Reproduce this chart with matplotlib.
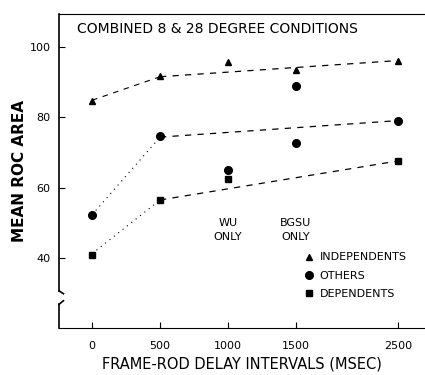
import numpy as np
import matplotlib
matplotlib.use('Agg')
import matplotlib.pyplot as plt

# delay intervals (msec)
delays = [0, 500, 1000, 1500, 2500]
tick_labels = ['0', '500', '1000', '1500', '2500']

indep_x = [0, 500, 1000, 1500, 2500]
indep_y = [84.6, 91.7, 95.7, 93.4, 96.0]

others_x = [0, 500, 1000, 1500, 1500, 2500]
others_y = [52.3, 74.6, 64.9, 88.9, 72.6, 79.1]

dep_x = [0, 500, 1000, 2500]
dep_y = [40.9, 56.6, 62.6, 67.7]

# fitted trend lines (first segment, then the flat part)
indep_fit_x = [0, 500, 2500]
indep_fit_y = [84.9, 91.6, 96.2]
others_fit_x = [0, 500, 2500]
others_fit_y = [52.3, 74.4, 79.1]
dep_fit_x = [0, 500, 2500]
dep_fit_y = [41.2, 56.5, 67.6]


# the axis is squeezed after 1500 msec
def fwd(x):
    x = np.asarray(x, dtype=float)
    return np.where(x <= 1500, x, 1500 + (x - 1500) * 0.75)


def inv(y):
    y = np.asarray(y, dtype=float)
    return np.where(y <= 1500, y, 1500 + (y - 1500) / 0.75)


fig = plt.figure(figsize=(4.25, 3.75), dpi=100)
ax = fig.add_axes([0.139, 0.125, 0.861, 0.838])
ax.set_xscale('function', functions=(fwd, inv))

# trend lines
for fx, fy, first_style in ((indep_fit_x, indep_fit_y, (0, (5, 5))),
                            (others_fit_x, others_fit_y, (0, (1, 4))),
                            (dep_fit_x, dep_fit_y, (0, (1, 4)))):
    ax.plot(fx[:2], fy[:2], color='black', lw=0.8, linestyle=first_style)
    ax.plot(fx[1:], fy[1:], color='black', lw=0.9, linestyle=(0, (5, 5)))

ax.plot(indep_x, indep_y, '^', color='black', ms=4, ls='none', label='INDEPENDENTS')
ax.plot(others_x, others_y, 'o', color='black', ms=5.5, ls='none', label='OTHERS')
ax.plot(dep_x, dep_y, 's', color='black', ms=4, ls='none', label='DEPENDENTS')

ax.set_xlim(-243, 2767)
ax.set_ylim(20, 109.5)
ax.set_xticks(delays)
ax.set_xticklabels(tick_labels, fontsize=8)
ax.set_yticks([40, 60, 80, 100])
ax.set_yticklabels(['40', '60', '80', '100'], fontsize=8)
ax.tick_params(axis='both', direction='in', length=4, width=0.8)
ax.tick_params(axis='x', pad=9)
ax.tick_params(axis='y', pad=6)

ax.spines['right'].set_visible(False)
ax.spines['left'].set_visible(False)
# left axis with a break
yt = ax.get_yaxis_transform()
ax.plot([0, 0], [20, 26.8], transform=yt, color='black', lw=1.2, clip_on=False)
ax.plot([0, 0.012], [26.8, 27.8], transform=yt, color='black', lw=1.2, clip_on=False)
ax.plot([0, 0], [30.6, 109.5], transform=yt, color='black', lw=1.2, clip_on=False)
ax.plot([0, 0.012], [30.6, 29.8], transform=yt, color='black', lw=1.2, clip_on=False)

ax.text(0.05, 0.975, 'COMBINED 8 & 28 DEGREE CONDITIONS', transform=ax.transAxes,
        fontsize=10, va='top', ha='left')
ax.text(1000, 44.5, 'WU\nONLY', ha='center', va='bottom', fontsize=8, linespacing=1.5)
ax.text(1500, 44.5, 'BGSU\nONLY', ha='center', va='bottom', fontsize=8, linespacing=1.5)

ax.legend(loc='upper left', bbox_to_anchor=(0.655, 0.255), frameon=False,
          fontsize=8, handletextpad=0.5, labelspacing=0.75, handlelength=1.0,
          borderaxespad=0)

ax.set_ylabel('MEAN ROC AREA', fontsize=11, fontweight='bold', labelpad=2)
ax.set_xlabel('FRAME-ROD DELAY INTERVALS (MSEC)', fontsize=10.5, labelpad=4)

fig.savefig('out.png', dpi=100)
